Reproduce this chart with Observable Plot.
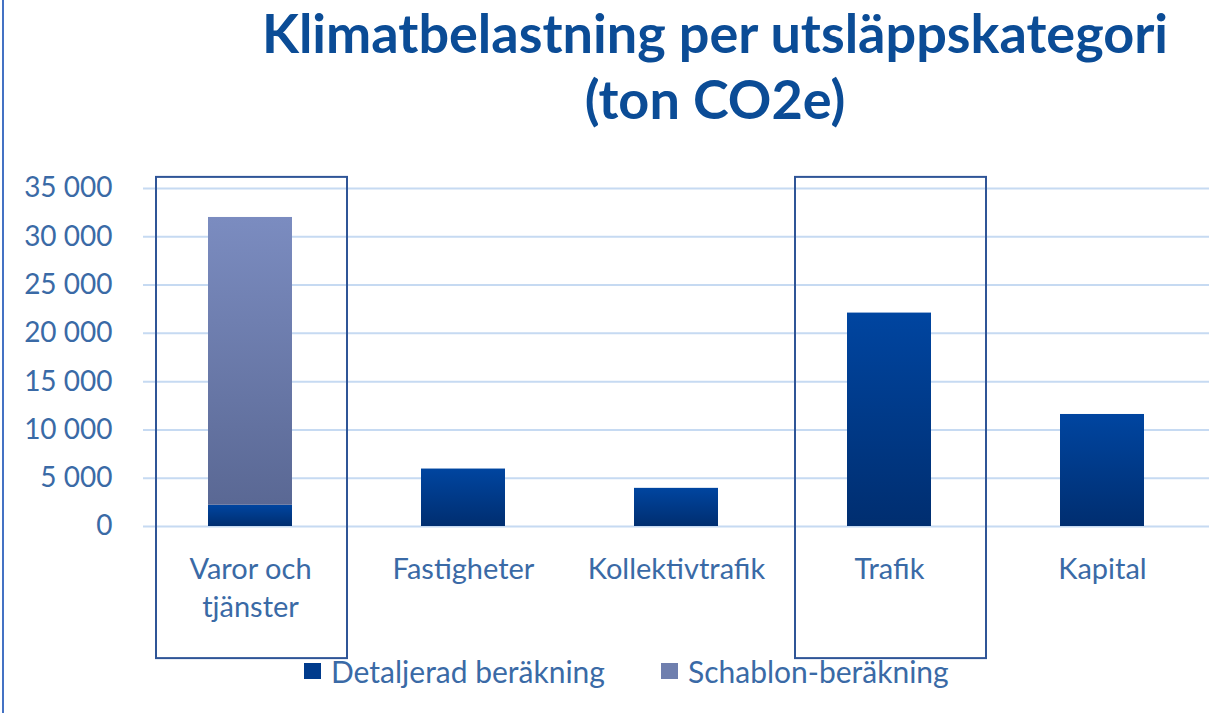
<!DOCTYPE html>
<html>
<head>
<meta charset="utf-8">
<script src="https://cdn.jsdelivr.net/npm/d3@7"></script>
<script src="https://cdn.jsdelivr.net/npm/@observablehq/plot@0.6"></script>
<style>
  html, body { margin: 0; padding: 0; background: #fff; }
  #wrap { position: relative; width: 1229px; height: 713px; overflow: hidden; font-family: Lato, "Noto Sans", sans-serif; }
  #border { position: absolute; left: 2px; top: 0; width: 2px; height: 713px; background: #4472c4; }
  #title { position: absolute; left: 201px; top: 0px; width: 1028px; text-align: center; color: #0b4c96; font-weight: 700; font-size: 54px; line-height: 66px; }
  #chart { position: absolute; left: 0; top: 150px; }
  #legend { position: absolute; top: 652px; left: 0; width: 1229px; height: 38px; font-size: 30px; color: #3a6aa6; }
  .li { position: absolute; top: 0; display: flex; align-items: center; height: 38px; }
  .sw { width: 17px; height: 16px; margin-right: 10px; }
</style>
</head>
<body>
<div id="wrap">
  <div id="border"></div>
  <div id="title">Klimatbelastning per utsläppskategori<br>(ton CO2e)</div>
  <div id="chart"></div>
  <div id="legend"></div>
</div>
<script>
const categories = ["Varor och tjänster", "Fastigheter", "Kollektivtrafik", "Trafik", "Kapital"];
const tickLabels = ["Varor och\ntjänster", "Fastigheter", "Kollektivtrafik", "Trafik", "Kapital"];
const seriesNames = ["Detaljerad beräkning", "Schablon-beräkning"];
const detaljerad = [2200, 5950, 3950, 22100, 11600];
const schablon = [29800, 0, 0, 0, 0];
const yTicks = [0, 5000, 10000, 15000, 20000, 25000, 30000, 35000];
const highlighted = ["Varor och tjänster", "Trafik"];

const seriesColors = ["url(#gDet)", "url(#gSch)"];
const legendColors = ["#003b8c", "#6f7fae"];

const rows = [];
categories.forEach((c, i) => {
  rows.push({cat: c, series: seriesNames[0], value: detaljerad[i]});
  rows.push({cat: c, series: seriesNames[1], value: schablon[i]});
});

const fmt = d => d3.format(",")(d).replace(/,/g, " ");
const labelOf = Object.fromEntries(categories.map((c, i) => [c, tickLabels[i]]));

const plot = Plot.plot({
  width: 1229,
  height: 520,
  marginLeft: 143,
  marginRight: 20,
  marginTop: 38,
  marginBottom: 144,
  style: {fontFamily: "Lato, 'Noto Sans', sans-serif", fontSize: "28px", color: "#3a6aa6", background: "transparent", overflow: "visible"},
  x: {domain: categories, paddingInner: 0.606, paddingOuter: 0.303, label: null},
  y: {domain: [0, 35000], label: null},
  color: {domain: seriesNames, range: seriesColors},
  marks: [
    Plot.gridY(yTicks, {stroke: "#c6daf2", strokeOpacity: 1, strokeWidth: 2}),
    Plot.axisY({ticks: yTicks, tickFormat: fmt, tickSize: 0, tickPadding: 31, fill: "#3a6aa6", fontSize: 28, label: null}),
    Plot.axisX({tickFormat: d => labelOf[d], tickSize: 0, tickPadding: 26, fill: "#3a6aa6", fontSize: 29, lineHeight: 1.3, label: null}),
    Plot.barY(rows, Plot.stackY({x: "cat", y: "value", fill: "series", order: seriesNames})),
    Plot.barY(highlighted, {x: d => d, y1: -13680, y2: 36150, fill: "none", stroke: "#2f5597", strokeWidth: 2, insetLeft: -52, insetRight: -55})
  ]
});

const svg = d3.select(plot);
const defs = svg.insert("defs", ":first-child");
const g1 = defs.append("linearGradient").attr("id", "gDet").attr("x1", 0).attr("y1", 0).attr("x2", 0).attr("y2", 1);
g1.append("stop").attr("offset", "0%").attr("stop-color", "#0045a0");
g1.append("stop").attr("offset", "100%").attr("stop-color", "#002e70");
const g2 = defs.append("linearGradient").attr("id", "gSch").attr("x1", 0).attr("y1", 0).attr("x2", 0).attr("y2", 1);
g2.append("stop").attr("offset", "0%").attr("stop-color", "#7b8cc0");
g2.append("stop").attr("offset", "100%").attr("stop-color", "#5a6894");

document.getElementById("chart").appendChild(plot);

const legend = d3.select("#legend");
const legendX = [304, 661];
seriesNames.forEach((s, i) => {
  const item = legend.append("div").attr("class", "li").style("left", legendX[i] + "px");
  item.append("div").attr("class", "sw").style("background", legendColors[i]);
  item.append("span").text(s);
});
</script>
</body>
</html>
